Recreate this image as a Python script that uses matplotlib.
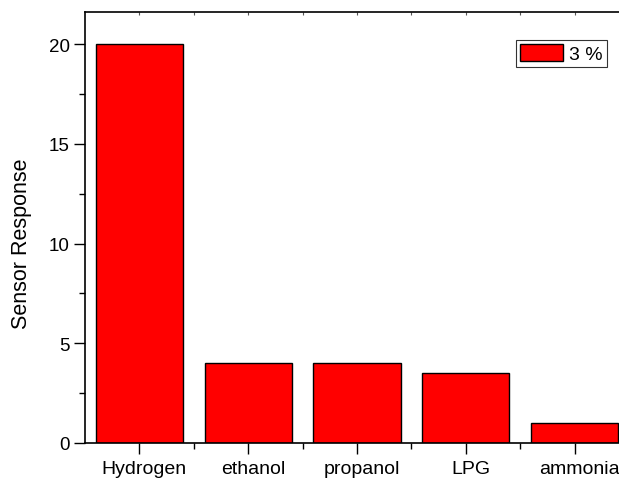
import matplotlib
matplotlib.use("Agg")
import matplotlib.pyplot as plt
import matplotlib.transforms as mtransforms
from matplotlib.ticker import MultipleLocator, FixedLocator

plt.rcParams['font.family'] = ['Liberation Sans', 'DejaVu Sans']

gases = ["Hydrogen", "ethanol", "propanol", "LPG", "ammonia"]
response = [20.0, 4.0, 4.0, 3.5, 1.0]
series_label = "3 %"

fig = plt.figure(figsize=(6.19, 4.81), dpi=100)
ax = fig.add_axes([85 / 619, 37 / 481, 544 / 619, 431 / 481])

pos = list(range(1, len(gases) + 1))
between = [p + 0.5 for p in pos[:-1]]
ax.bar(pos, response, width=0.8, color="#ff0000", edgecolor="black",
       linewidth=1.0, label=series_label)

ax.set_xlim(0.5, len(gases) + 0.5)
ax.set_ylim(0, 21.62)

ax.set_xticks(pos)
ax.set_xticklabels(gases, fontsize=14)
ax.xaxis.set_minor_locator(FixedLocator(between))
ax.yaxis.set_major_locator(MultipleLocator(5))
ax.yaxis.set_minor_locator(MultipleLocator(2.5))
ax.tick_params(axis="y", labelsize=13.5)

ax.tick_params(which="major", direction="out", length=8, width=1.0)
ax.tick_params(which="minor", direction="out", length=4, width=1.0)
ax.tick_params(axis="x", which="major", pad=4)
ax.tick_params(axis="y", which="major", pad=3)

# category names sit slightly right of their ticks
shift = mtransforms.ScaledTranslation(5 / 100, 0, fig.dpi_scale_trans)
for lbl in ax.get_xticklabels():
    lbl.set_transform(lbl.get_transform() + shift)

# small inward ticks along the top edge
top = ax.secondary_xaxis("top")
top.set_xticks(pos)
top.set_xticklabels([])
top.xaxis.set_minor_locator(FixedLocator(between))
top.tick_params(which="both", direction="in", length=2, width=0.8, color="#555555")
top.spines["top"].set_visible(False)

for s in ax.spines.values():
    s.set_linewidth(1.2)

ax.set_ylabel("Sensor Response", fontsize=15.5)
ax.yaxis.set_label_coords(-0.097, 0.465)

leg = ax.legend(loc="upper right", bbox_to_anchor=((607 - 85) / 544, (481 - 41 - 37) / 431),
                bbox_transform=ax.transAxes, fontsize=14, frameon=True, fancybox=False,
                edgecolor="black", borderpad=0.2, handlelength=2.2, handleheight=0.95,
                handletextpad=0.35, borderaxespad=0)
leg.get_frame().set_linewidth(0.8)

fig.savefig("out.png", dpi=100)
